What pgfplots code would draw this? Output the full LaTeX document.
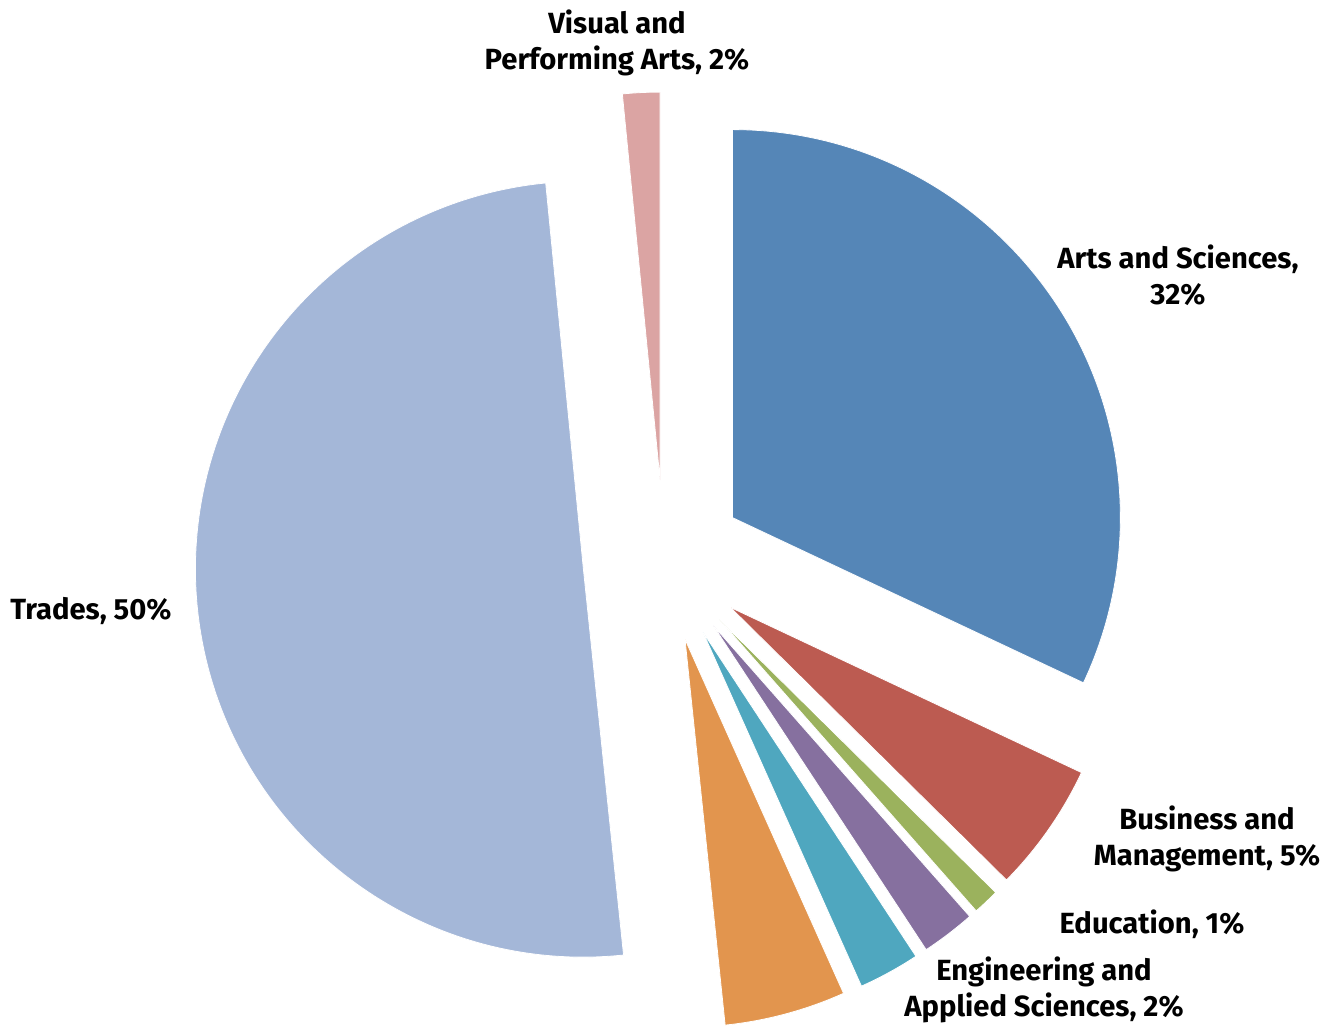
\documentclass[border=0pt]{standalone}
\usepackage{pgfplots}
\pgfplotsset{compat=1.18}
\usepackage{pgfplotstable}
\usepackage{fontspec}
\setmainfont{Fira Sans}
\definecolor{cArts}{HTML}{5586B7}
\definecolor{cBus}{HTML}{BC5B51}
\definecolor{cEdu}{HTML}{9BB25D}
\definecolor{cPur}{HTML}{86709F}
\definecolor{cTeal}{HTML}{4FA7BF}
\definecolor{cOra}{HTML}{E2954E}
\definecolor{cTra}{HTML}{A4B7D8}
\definecolor{cVis}{HTML}{DBA4A3}

% share of each slice (percent), clockwise from 12 o'clock
\pgfplotstableread{
value col
32.0  cArts
5.4   cBus
1.1   cEdu
2.25  cPur
2.55  cTeal
5.05  cOra
50.1  cTra
1.55  cVis
}\piedata

\def\pieCum{90}
\pgfplotsforeachungrouped \i in {0,...,7}{%
  \pgfplotstablegetelem{\i}{value}\of\piedata \let\pieV\pgfplotsretval
  \pgfplotstablegetelem{\i}{col}\of\piedata
  \colorlet{slice\i}{\pgfplotsretval}%
  \pgfmathsetmacro\pieE{\pieCum-3.6*\pieV}%
  \pgfmathsetmacro\pieM{(\pieCum+\pieE)/2}%
  \pgfmathsetmacro\pieVX{664+81*cos(\pieM)}%
  \pgfmathsetmacro\pieVY{467+81*sin(\pieM)}%
  \expandafter\xdef\csname pieS\i\endcsname{\pieCum}%
  \expandafter\xdef\csname pieE\i\endcsname{\pieE}%
  \expandafter\xdef\csname pieX\i\endcsname{\pieVX}%
  \expandafter\xdef\csname pieY\i\endcsname{\pieVY}%
  \xdef\pieCum{\pieE}%
}

\begin{document}
\begin{tikzpicture}
\begin{axis}[x=0.5pt, y=0.5pt, xmin=0, xmax=1340, ymin=0, ymax=1028,
  hide axis, clip=false]
\path (axis cs:0,0) rectangle (axis cs:1340,1028);
\pgfplotsforeachungrouped \i in {0,...,7}{%
  \edef\temp{\noexpand\fill[fill=slice\i, draw=white, line width=0.4pt]
    (axis cs:\csname pieX\i\endcsname,\csname pieY\i\endcsname)
    -- ++(\csname pieS\i\endcsname:194pt)
    arc[start angle=\csname pieS\i\endcsname, end angle=\csname pieE\i\endcsname, radius=194pt]
    -- cycle;}%
  \temp
}
\tikzset{lbl/.style={align=center, font=\bfseries\fontsize{14.6}{18}\selectfont, inner sep=0pt}}
\node[lbl] at (axis cs:617,985) {Visual and\\Performing Arts, 2\%};
\node[lbl] at (axis cs:1178,753) {Arts and Sciences,\\32\%};
\node[lbl] at (axis cs:91,417) {Trades, 50\%};
\node[lbl] at (axis cs:1207,189) {Business and\\Management, 5\%};
\node[lbl] at (axis cs:1152,104) {Education, 1\%};
\node[lbl] at (axis cs:1044,38) {Engineering and\\Applied Sciences, 2\%};
\end{axis}
\end{tikzpicture}
\end{document}
